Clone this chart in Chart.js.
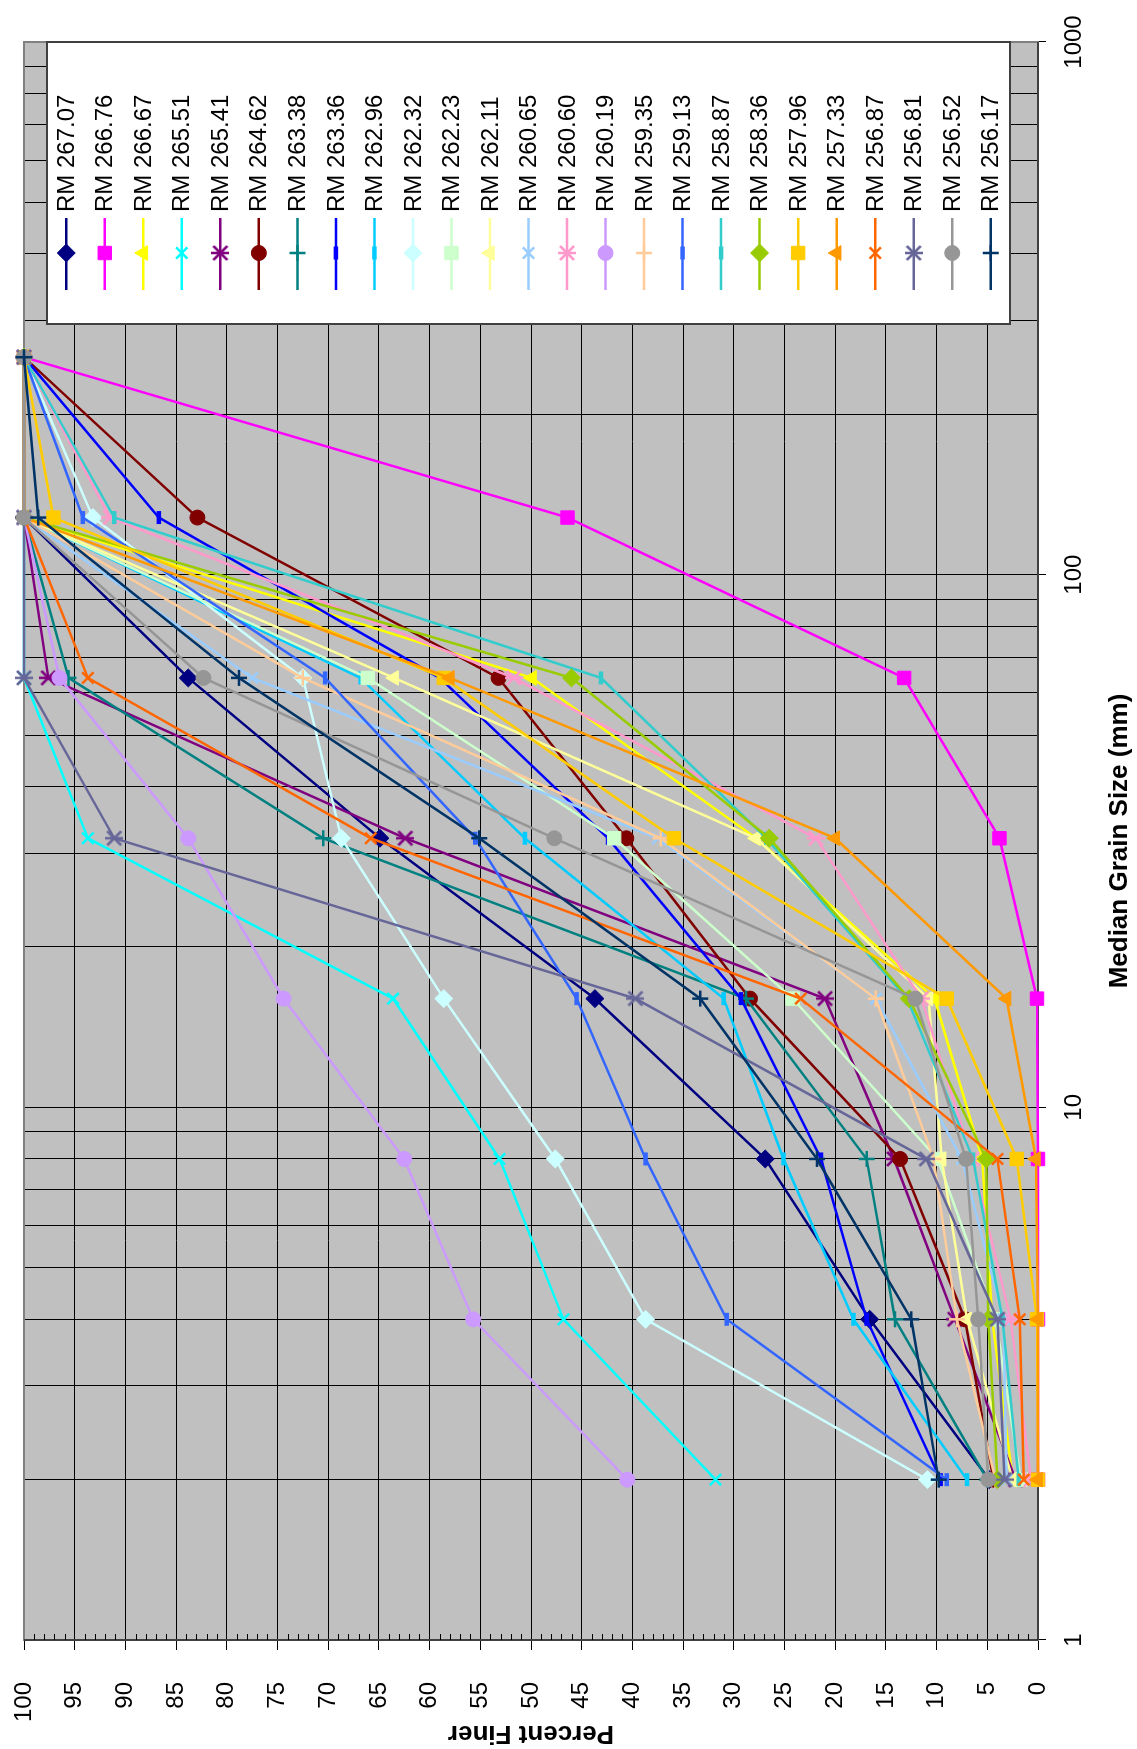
<!DOCTYPE html>
<html>
<head>
<meta charset="utf-8">
<title>Percent Finer</title>
<script src="https://cdn.jsdelivr.net/npm/chart.js@4.4.1/dist/chart.umd.min.js"></script>
<style>
html, body { margin: 0; padding: 0; background: #fff; overflow: hidden; }
body { width: 1137px; height: 1749px; position: relative; }
/* the original figure is turned 90 degrees counter-clockwise */
#giro { position: absolute; left: 0; top: 0; width: 1749px; height: 1137px;
        transform-origin: 0 0; transform: translateY(1749px) rotate(-90deg); }
#giro canvas { display: block; }
</style>
</head>
<body>
<div id="giro"><canvas id="myChart" width="1749" height="1137" style="width:1749px;height:1137px"></canvas></div>
<script>
// tamices (mm)
const tamanos = [2, 4, 8, 16, 32, 64, 128, 256];

// porcentaje que pasa, una lista por muestra
const rm26707 = [4.8, 16.6, 26.9, 43.7, 64.9, 83.8, 100, 100];
const rm26676 = [0, 0, 0, 0.1, 3.8, 13.2, 46.4, 100];
const rm26667 = [2.5, 4.5, 5.5, 10.2, 27.8, 49.9, 100, 100];
const rm26551 = [31.8, 46.8, 53.1, 63.6, 93.7, 100, 100, 100];
const rm26541 = [2.2, 8.2, 14.2, 21.0, 62.4, 97.6, 100, 100];
const rm26462 = [4.4, 7.2, 13.6, 28.4, 40.6, 53.2, 82.9, 100];
const rm26338 = [5.0, 14.1, 16.9, 28.8, 70.5, 95.6, 100, 100];
const rm26336 = [9.6, 16.9, 21.4, 29.3, 42.4, 59.0, 86.7, 100];
const rm26296 = [7.0, 18.2, 25.1, 31.0, 50.6, 66.8, 100, 100];
const rm26232 = [10.9, 38.7, 47.6, 58.6, 68.7, 72.5, 93.2, 100];
const rm26223 = [1.7, 4.2, 9.9, 24.2, 41.8, 66.1, 100, 100];
const rm26211 = [2.5, 7.0, 9.5, 10.8, 27.8, 63.5, 100, 100];
const rm26065 = [3.1, 3.4, 7.5, 16.0, 37.5, 77.5, 100, 100];
const rm26060 = [0.7, 2.7, 6.5, 11.5, 21.9, 51.7, 91.5, 100];
const rm26019 = [40.5, 55.7, 62.5, 74.4, 83.8, 96.5, 100, 100];
const rm25935 = [4.2, 8.0, 10.3, 16.0, 37.2, 72.5, 100, 100];
const rm25913 = [9.0, 30.7, 38.7, 45.5, 55.5, 70.3, 94.2, 100];
const rm25887 = [1.9, 3.5, 6.4, 12.9, 26.8, 43.1, 91.1, 100];
const rm25836 = [4.0, 4.9, 5.1, 12.7, 26.5, 46.0, 100, 100];
const rm25796 = [0, 0.1, 2.1, 9.0, 35.9, 58.6, 97.1, 100];
const rm25733 = [0, 0, 0.2, 3.1, 20.0, 58.0, 100, 100];
const rm25687 = [1.4, 1.8, 4.0, 23.4, 65.8, 93.7, 100, 100];
const rm25681 = [3.3, 4.0, 11.0, 39.7, 91.1, 100, 100, 100];
const rm25652 = [4.9, 5.9, 7.1, 12.1, 47.7, 82.3, 100, 100];
const rm25617 = [9.8, 12.5, 21.8, 33.3, 55.1, 78.8, 98.6, 100];

const etiquetas = ['RM 267.07', 'RM 266.76', 'RM 266.67', 'RM 265.51', 'RM 265.41', 'RM 264.62',
	'RM 263.38', 'RM 263.36', 'RM 262.96', 'RM 262.32', 'RM 262.23', 'RM 262.11', 'RM 260.65',
	'RM 260.60', 'RM 260.19', 'RM 259.35', 'RM 259.13', 'RM 258.87', 'RM 258.36', 'RM 257.96',
	'RM 257.33', 'RM 256.87', 'RM 256.81', 'RM 256.52', 'RM 256.17'];

const series = [rm26707, rm26676, rm26667, rm26551, rm26541, rm26462, rm26338, rm26336, rm26296,
	rm26232, rm26223, rm26211, rm26065, rm26060, rm26019, rm25935, rm25913, rm25887, rm25836,
	rm25796, rm25733, rm25687, rm25681, rm25652, rm25617];

const etiquetasPorcentaje = [0, 5, 10, 15, 20, 25, 30, 35, 40, 45, 50, 55, 60, 65, 70, 75, 80, 85, 90, 95, 100];
const etiquetasTamano = [1, 10, 100, 1000];

const colores = ['#000080', '#FF00FF', '#FFFF00', '#00FFFF', '#800080', '#800000', '#008080', '#0000FF',
	'#00CCFF', '#CCFFFF', '#CCFFCC', '#FFFF99', '#99CCFF', '#FF99CC', '#CC99FF', '#FFCC99', '#3366FF',
	'#33CCCC', '#99CC00', '#FFCC00', '#FF9900', '#FF6600', '#666699', '#969696', '#003366'];
const marcadores = ['rectRot', 'rect', 'triangle', 'crossRot', 'star', 'circle', 'cross', 'line', 'line'];
const radios = { rectRot: 9, rect: 9.5, triangle: 8.5, crossRot: 8, star: 9, circle: 7.5, cross: 8, line: 6.5 };
const bordes = { rectRot: 1, rect: 1, triangle: 1, crossRot: 2.5, star: 2.5, circle: 1, cross: 2.5, line: 4.5 };

Chart.defaults.font.family = '"Liberation Sans", Arial, sans-serif';
Chart.defaults.color = '#000';

// asterisco de Excel: una X con un trazo vertical
function hacerEstrella(color){
	let c = document.createElement('canvas');
	c.width = 18; c.height = 18;
	let g = c.getContext('2d');
	g.strokeStyle = color;
	g.lineWidth = 2.5;
	g.beginPath();
	g.moveTo(2, 2); g.lineTo(16, 16);
	g.moveTo(16, 2); g.lineTo(2, 16);
	g.moveTo(9, 0); g.lineTo(9, 18);
	g.stroke();
	return c;
}

let datasets = series.map((valores, i) => {
	let color = colores[i];
	let tipo = marcadores[i % marcadores.length];
	return {
		label: etiquetas[i],
		data: valores.map((v, j) => ({ x: tamanos[j], y: v })),
		showLine: true,
		tension: 0,
		borderColor: color,
		backgroundColor: color,
		borderWidth: 2.5,
		pointStyle: tipo === 'star' ? hacerEstrella(color) : tipo,
		pointRadius: radios[tipo],
		pointBorderWidth: bordes[tipo],
		pointBackgroundColor: color,
		pointBorderColor: color,
		clip: false,
		order: series.length - i
	};
});

const fondo = {
	id: 'fondo',
	beforeDraw(chart){
		let a = chart.chartArea, ctx = chart.ctx;
		ctx.save();
		ctx.fillStyle = '#C0C0C0';
		ctx.fillRect(a.left, a.top, a.right - a.left, a.bottom - a.top);
		ctx.restore();
	},
	beforeDatasetsDraw(chart){
		let a = chart.chartArea, ctx = chart.ctx;
		let y = chart.scales.y;
		ctx.save();
		ctx.strokeStyle = '#808080';
		ctx.lineWidth = 2;
		ctx.strokeRect(a.left, a.top, a.right - a.left, a.bottom - a.top);
		ctx.strokeStyle = '#000';
		ctx.lineWidth = 1;
		ctx.beginPath();
		ctx.moveTo(a.left, a.top); ctx.lineTo(a.left, a.bottom); ctx.lineTo(a.right, a.bottom);
		// marcas menores cada 1 %
		for (let v = 0; v <= 100; v++) {
			if (v % 5 === 0) continue;
			let p = Math.round(y.getPixelForValue(v)) + 0.5;
			ctx.moveTo(a.left, p); ctx.lineTo(a.left + 6, p);
		}
		ctx.stroke();
		ctx.restore();
	}
};

const leyenda = {
	id: 'leyenda',
	afterDraw(chart){
		let ctx = chart.ctx, a = chart.chartArea;
		let x0 = 1425, y0 = 47, alto = 963;
		let ancho = a.right - x0;
		let paso = alto / datasets.length;
		ctx.save();
		ctx.fillStyle = '#fff';
		ctx.fillRect(x0, y0, ancho, alto);
		ctx.strokeStyle = '#404040';
		ctx.lineWidth = 2;
		ctx.strokeRect(x0, y0, ancho, alto);
		ctx.font = '24px "Liberation Sans", Arial, sans-serif';
		ctx.textAlign = 'left';
		ctx.textBaseline = 'middle';
		datasets.forEach((d, i) => {
			let cy = y0 + paso * (i + 0.5);
			ctx.strokeStyle = d.borderColor;
			ctx.fillStyle = d.borderColor;
			ctx.lineWidth = 2.5;
			ctx.beginPath();
			ctx.moveTo(1459, cy); ctx.lineTo(1531, cy);
			ctx.stroke();
			ctx.lineWidth = d.pointBorderWidth;
			Chart.helpers.drawPoint(ctx, {
				pointStyle: d.pointStyle, radius: d.pointRadius, borderWidth: d.pointBorderWidth, rotation: 0
			}, 1496, cy);
			ctx.fillStyle = '#000';
			ctx.fillText(d.label, 1537, cy + 1);
		});
		ctx.restore();
	}
};

let ctx = document.getElementById('myChart').getContext('2d');
let chart = new Chart(ctx, {
	type: 'scatter',
	data: { datasets: datasets },
	plugins: [fondo, leyenda],
	options: {
		responsive: false,
		animation: false,
		devicePixelRatio: 1,
		events: [],
		layout: { padding: { left: 0, top: 24, right: 42, bottom: 0 } },
		plugins: { legend: { display: false }, tooltip: { enabled: false } },
		scales: {
			x: {
				type: 'logarithmic',
				min: 1,
				max: 1000,
				afterBuildTicks(escala){
					let marcas = [];
					for (let d = 1; d < 1000; d *= 10) {
						for (let k = 1; k < 10; k++) marcas.push({ value: k * d });
					}
					marcas.push({ value: 1000 });
					escala.ticks = marcas;
				},
				afterFit(escala){
					escala.height = 99;
					escala.paddingLeft = 0;
					escala.paddingRight = 0;
				},
				ticks: {
					autoSkip: false,
					maxRotation: 0,
					minRotation: 0,
					padding: 14,
					font: { size: 24 },
					callback: v => etiquetasTamano.includes(v) ? String(v) : ''
				},
				grid: {
					color: '#000',
					lineWidth: 1,
					tickLength: 8,
					tickColor: c => (c.tick && etiquetasTamano.includes(c.tick.value)) ? '#000' : 'rgba(0,0,0,0)'
				},
				border: { display: false },
				title: {
					display: true,
					text: 'Median Grain Size (mm)',
					font: { size: 26, weight: 'bold' },
					padding: { top: 0, bottom: 2 }
				}
			},
			y: {
				min: 0,
				max: 100,
				afterBuildTicks(escala){
					escala.ticks = etiquetasPorcentaje.map(v => ({ value: v }));
				},
				afterFit(escala){
					escala.width = 109;
					escala.paddingTop = 0;
					escala.paddingBottom = 0;
				},
				ticks: { padding: 32, font: { size: 24 } },
				grid: { color: '#000', lineWidth: 1, tickLength: 10, tickColor: '#000' },
				border: { display: false },
				title: {
					display: true,
					text: 'Percent Finer',
					font: { size: 26, weight: 'bold' },
					padding: { top: 0, bottom: 0 }
				}
			}
		}
	}
});
console.log(chart.chartArea, chart.scales.y.left, chart.scales.y.right);
</script>
</body>
</html>
